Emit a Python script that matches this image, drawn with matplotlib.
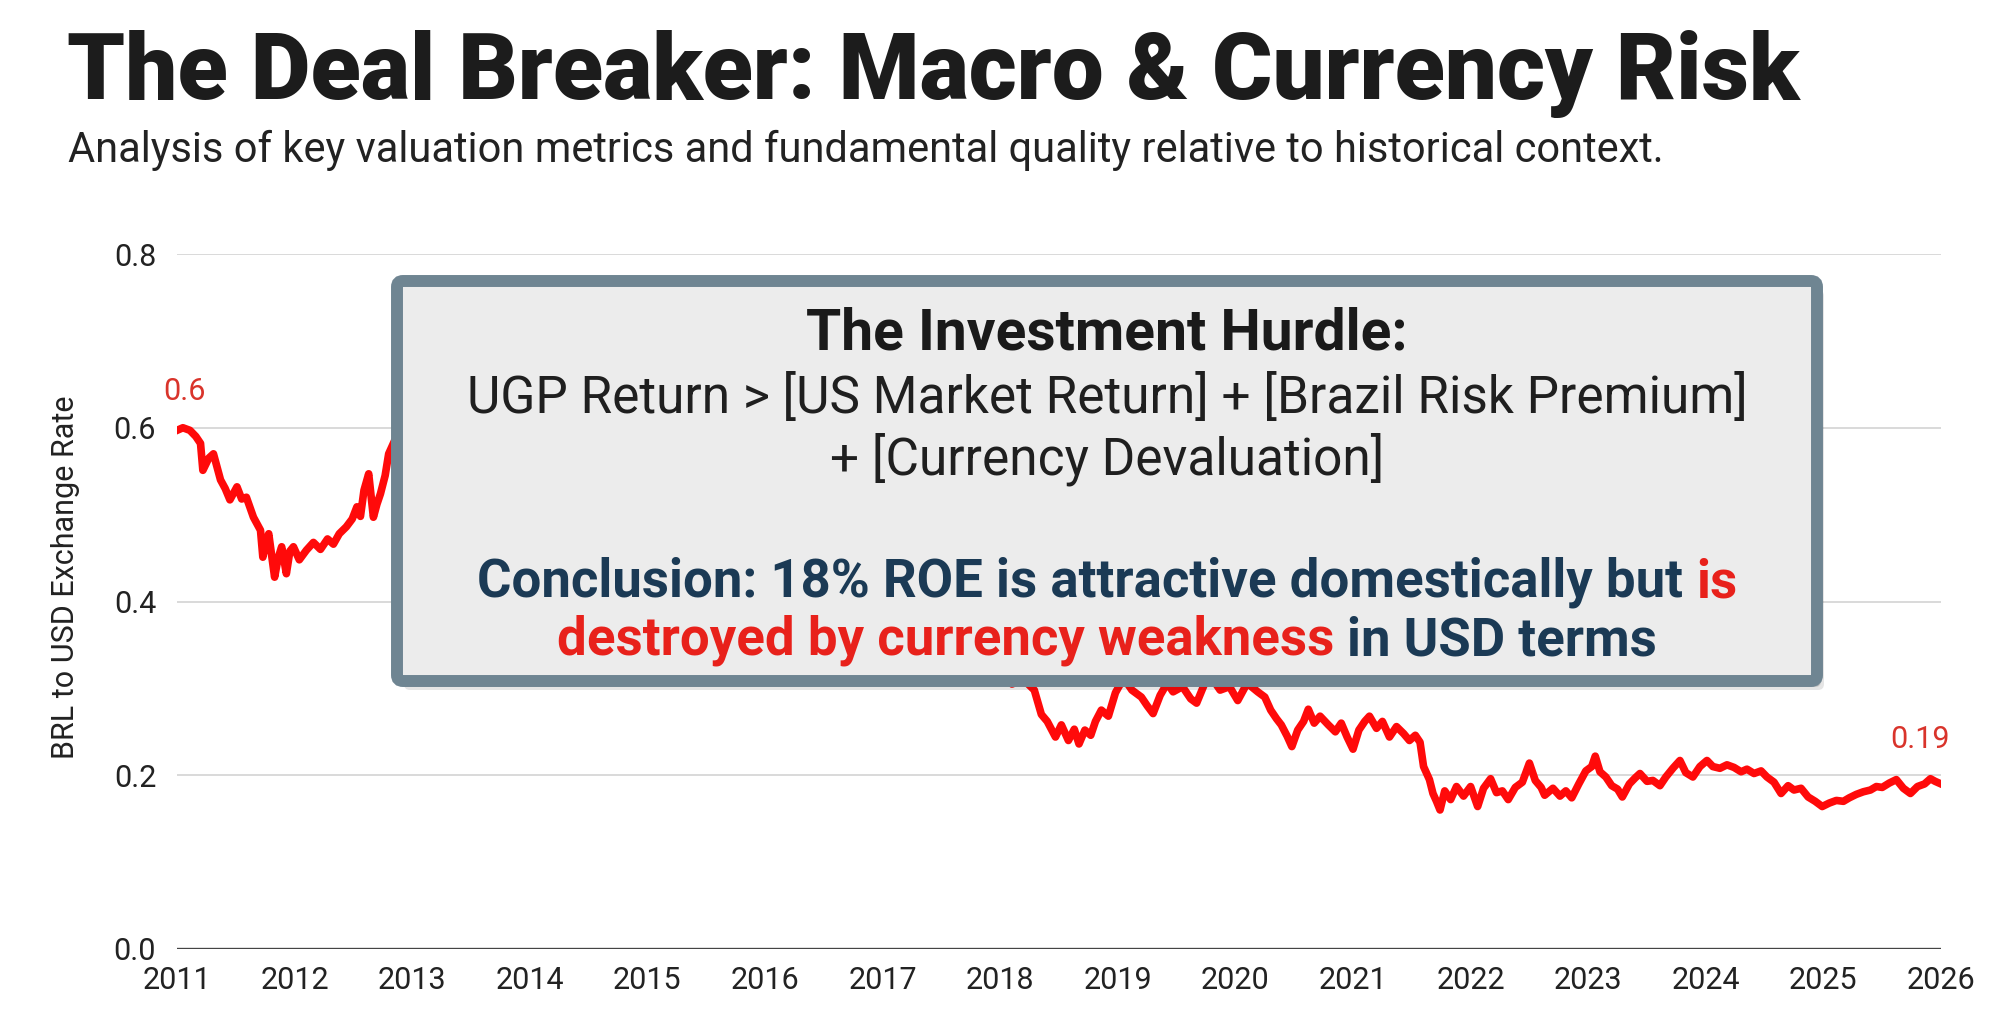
import matplotlib
matplotlib.use("Agg")
import matplotlib.pyplot as plt
from matplotlib.patches import FancyBboxPatch

FONT = ["Roboto", "DejaVu Sans"]
W, H = 2010, 1028

# BRL -> USD (part between 2013 and 2018 sits behind the note box)
years = [2011.00, 2011.05, 2011.11, 2011.16, 2011.20, 2011.22, 2011.27, 2011.31, 2011.37, 2011.41,
         2011.45, 2011.51, 2011.55, 2011.59, 2011.65, 2011.71, 2011.73, 2011.76, 2011.78, 2011.83,
         2011.86, 2011.89, 2011.93, 2011.96, 2011.99, 2012.04, 2012.10, 2012.16, 2012.22, 2012.28,
         2012.33, 2012.38, 2012.44, 2012.49, 2012.53, 2012.56, 2012.59, 2012.63, 2012.67, 2012.70,
         2012.73, 2012.77, 2012.80, 2012.85,
         2013.00, 2013.25, 2013.50, 2013.75, 2014.00, 2014.25, 2014.50, 2014.75, 2015.00, 2015.25,
         2015.50, 2015.75, 2016.00, 2016.25, 2016.50, 2016.75, 2017.00, 2017.25, 2017.50, 2017.75,
         2018.00, 2018.10, 2018.20,
         2018.29, 2018.35, 2018.40, 2018.47, 2018.52, 2018.58, 2018.63, 2018.67, 2018.72, 2018.77,
         2018.81, 2018.86, 2018.92, 2018.98, 2019.05, 2019.12, 2019.20, 2019.25, 2019.30, 2019.36,
         2019.42, 2019.47, 2019.55, 2019.62, 2019.67, 2019.74, 2019.80, 2019.87, 2019.95, 2020.02,
         2020.10, 2020.19, 2020.25, 2020.30, 2020.35, 2020.39, 2020.44, 2020.48, 2020.53, 2020.58,
         2020.62, 2020.67, 2020.72, 2020.79, 2020.85, 2020.90, 2020.95, 2021.00, 2021.05, 2021.10,
         2021.14, 2021.20, 2021.25, 2021.31, 2021.37, 2021.43, 2021.48, 2021.53, 2021.57, 2021.60,
         2021.65, 2021.68, 2021.71, 2021.74, 2021.78, 2021.83, 2021.88, 2021.94, 2022.00, 2022.06,
         2022.11, 2022.17, 2022.22, 2022.27, 2022.32, 2022.38, 2022.44, 2022.50, 2022.55, 2022.60,
         2022.63, 2022.70, 2022.76, 2022.81, 2022.86, 2022.92, 2022.98, 2023.03, 2023.06, 2023.10,
         2023.15, 2023.20, 2023.25, 2023.29, 2023.35, 2023.40, 2023.44, 2023.50, 2023.55, 2023.61,
         2023.66, 2023.72, 2023.78, 2023.83, 2023.89, 2023.95, 2024.01, 2024.06, 2024.12, 2024.18,
         2024.24, 2024.30, 2024.35, 2024.41, 2024.47, 2024.52, 2024.58, 2024.64, 2024.70, 2024.75,
         2024.81, 2024.87, 2024.93, 2024.99, 2025.05, 2025.11, 2025.17, 2025.22, 2025.28, 2025.34,
         2025.40, 2025.45, 2025.50, 2025.56, 2025.62, 2025.68, 2025.74, 2025.80, 2025.86, 2025.91,
         2025.95, 2026.00]
rate = [0.597, 0.600, 0.597, 0.590, 0.582, 0.551, 0.565, 0.570, 0.540, 0.530,
        0.517, 0.532, 0.518, 0.520, 0.497, 0.482, 0.451, 0.470, 0.478, 0.428,
        0.450, 0.463, 0.432, 0.458, 0.463, 0.448, 0.459, 0.468, 0.460, 0.472,
        0.466, 0.478, 0.486, 0.495, 0.509, 0.498, 0.528, 0.547, 0.497, 0.512,
        0.524, 0.545, 0.570, 0.585,
        0.570, 0.550, 0.500, 0.470, 0.450, 0.460, 0.480, 0.440, 0.400, 0.360,
        0.330, 0.320, 0.320, 0.330, 0.350, 0.340, 0.360, 0.350, 0.340, 0.330,
        0.320, 0.305, 0.310,
        0.298, 0.270, 0.262, 0.244, 0.258, 0.240, 0.253, 0.236, 0.252, 0.246,
        0.262, 0.275, 0.268, 0.295, 0.312, 0.298, 0.290, 0.280, 0.271, 0.292,
        0.306, 0.296, 0.302, 0.288, 0.283, 0.306, 0.312, 0.298, 0.302, 0.286,
        0.306, 0.296, 0.290, 0.275, 0.265, 0.258, 0.245, 0.233, 0.252, 0.262,
        0.276, 0.260, 0.268, 0.258, 0.250, 0.260, 0.244, 0.230, 0.252, 0.262,
        0.268, 0.254, 0.262, 0.244, 0.256, 0.248, 0.240, 0.246, 0.238, 0.210,
        0.195, 0.179, 0.170, 0.160, 0.182, 0.172, 0.187, 0.176, 0.187, 0.164,
        0.185, 0.196, 0.180, 0.182, 0.172, 0.186, 0.192, 0.214, 0.194, 0.186,
        0.177, 0.185, 0.176, 0.182, 0.174, 0.190, 0.205, 0.210, 0.222, 0.204,
        0.198, 0.188, 0.184, 0.175, 0.190, 0.197, 0.202, 0.193, 0.194, 0.188,
        0.198, 0.208, 0.217, 0.203, 0.198, 0.210, 0.217, 0.210, 0.208, 0.212,
        0.209, 0.204, 0.207, 0.202, 0.205, 0.198, 0.192, 0.179, 0.188, 0.183,
        0.185, 0.175, 0.170, 0.164, 0.168, 0.171, 0.170, 0.174, 0.178, 0.181,
        0.183, 0.187, 0.186, 0.191, 0.195, 0.185, 0.179, 0.187, 0.190, 0.196,
        0.193, 0.190]

year_ticks = list(range(2011, 2027))
value_ticks = [0.0, 0.2, 0.4, 0.6, 0.8]
start_label, end_label = "0.6", "0.19"

RED = "#ff0a0a"
NAVY = "#1b3a55"
TXTRED = "#e8211b"

fig = plt.figure(figsize=(W / 100, H / 100), dpi=100)
fig.patch.set_facecolor("white")

ax = fig.add_axes([177 / W, 1 - 949 / H, (1941 - 177) / W, (949 - 254) / H])
ax.plot(years, rate, color=RED, lw=5.5, solid_joinstyle="round", zorder=3)
ax.set_xlim(2011, 2026)
ax.set_ylim(0, 0.8)
ax.set_xticks(year_ticks)
ax.set_xticklabels([str(y) for y in year_ticks])
ax.set_yticks(value_ticks)
ax.set_yticklabels([f"{v:.1f}" for v in value_ticks])
ax.grid(axis="y", color="#d9d9d9", lw=1.4)
ax.axhline(0, color="#444444", lw=2.4, zorder=2)
for s in ax.spines.values():
    s.set_visible(False)
ax.tick_params(length=0, labelsize=22, labelcolor="#222222")
ax.tick_params(axis="x", pad=12)
ax.tick_params(axis="y", pad=15)
for lab in ax.get_xticklabels() + ax.get_yticklabels():
    lab.set_family(FONT)
ax.set_ylabel("BRL to USD Exchange Rate", fontsize=22, family=FONT, color="#222222")
ax.yaxis.set_label_coords(-0.055, 0.535)

# end-point labels
ax.annotate(start_label, (years[0], rate[0]), xytext=(8, 24), textcoords="offset pixels",
            ha="center", va="bottom", fontsize=22, color="#d9342b", family=FONT)
ax.annotate(end_label, (years[-1], rate[-1]), xytext=(-21, 30), textcoords="offset pixels",
            ha="center", va="bottom", fontsize=22, color="#d9342b", family=FONT)

# overlay in pixel units for titles and the note box
ov = fig.add_axes([0, 0, 1, 1], zorder=10)
ov.set_xlim(0, W)
ov.set_ylim(H, 0)
ov.axis("off")
ov.patch.set_alpha(0)

ov.text(67, 99, "The Deal Breaker: Macro & Currency Risk", fontsize=66.5, fontweight=900,
        family=FONT, color="#1c1c1c", va="baseline")
ov.text(68, 162, "Analysis of key valuation metrics and fundamental quality relative to historical context.",
        fontsize=30, family=FONT, color="#222222", va="baseline")

bx0, by0, bx1, by1 = 397, 281, 1817, 681
for dx, dy, a in [(7, 9, 0.10), (4, 6, 0.14)]:
    ov.add_patch(FancyBboxPatch((bx0 + dx, by0 + dy), bx1 - bx0, by1 - by0,
                                boxstyle="round,pad=0,rounding_size=6", fc="black",
                                ec="none", alpha=a))
ov.add_patch(FancyBboxPatch((bx0, by0), bx1 - bx0, by1 - by0,
                            boxstyle="round,pad=0,rounding_size=6", fc="#ececec",
                            ec="#6f8592", lw=8.6))

cx = (bx0 + bx1) / 2
renderer = fig.canvas.get_renderer()


def mixed_line(runs, y, size, weight):
    texts = [ov.text(0, y, s, color=c, fontsize=size, fontweight=weight, family=FONT,
                     va="baseline", ha="left") for s, c in runs]
    ws = [t.get_window_extent(renderer).width for t in texts]
    p1 = ov.text(0, 0, "a a", fontsize=size, fontweight=weight, family=FONT)
    p2 = ov.text(0, 0, "aa", fontsize=size, fontweight=weight, family=FONT)
    sp = p1.get_window_extent(renderer).width - p2.get_window_extent(renderer).width
    p1.remove()
    p2.remove()
    x = cx - (sum(ws) + sp * (len(runs) - 1)) / 2
    for t, w in zip(texts, ws):
        t.set_x(x)
        x += w + sp


ov.text(cx, 349, "The Investment Hurdle:", fontsize=41, fontweight="bold", family=FONT,
        color="#1a1a1a", ha="center", va="baseline")
ov.text(cx, 413, "UGP Return > [US Market Return] + [Brazil Risk Premium]", fontsize=37,
        family=FONT, color="#1f1f1f", ha="center", va="baseline")
ov.text(cx, 474, "+ [Currency Devaluation]", fontsize=37, family=FONT, color="#1f1f1f",
        ha="center", va="baseline")
mixed_line([("Conclusion: 18% ROE is attractive domestically but", NAVY), ("is", TXTRED)],
           597, 38, "bold")
mixed_line([("destroyed by currency weakness", TXTRED), ("in USD terms", NAVY)],
           655, 38, "bold")

fig.savefig("out.png", dpi=100, facecolor="white")
